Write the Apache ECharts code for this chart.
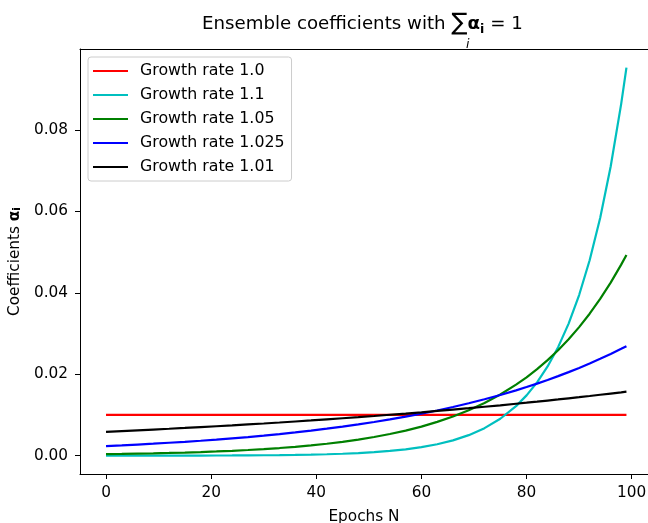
<!DOCTYPE html>
<html>
<head>
<meta charset="utf-8">
<script src="https://cdn.jsdelivr.net/npm/echarts@6/dist/echarts.min.js"></script>
<style>
  html, body { margin: 0; padding: 0; background: #fff; }
  #container { width: 648px; height: 523px; }
</style>
</head>
<body>
<div id="container"></div>
<script>
var epochs = [0, 3, 6, 9, 12, 15, 18, 21, 24, 27, 30, 33, 36, 39, 42, 45, 48, 51,
  54, 57, 60, 63, 66, 69, 72, 75, 78, 80, 82, 84, 86, 88, 90, 92, 94, 96, 98, 99];

var rate100 = [0.01, 0.01, 0.01, 0.01, 0.01, 0.01, 0.01, 0.01, 0.01, 0.01, 0.01, 0.01,
  0.01, 0.01, 0.01, 0.01, 0.01, 0.01, 0.01, 0.01, 0.01, 0.01, 0.01, 0.01, 0.01, 0.01,
  0.01, 0.01, 0.01, 0.01, 0.01, 0.01, 0.01, 0.01, 0.01, 0.01, 0.01, 0.01];
var rate110 = [0.0000058, 0.0000078, 0.0000105, 0.0000141, 0.0000189, 0.0000254,
  0.0000340, 0.0000457, 0.0000613, 0.0000822, 0.000110, 0.000148, 0.000199, 0.000266,
  0.000357, 0.000480, 0.000644, 0.000864, 0.00116, 0.00155, 0.00209, 0.00280, 0.00376,
  0.00504, 0.00676, 0.00907, 0.01217, 0.01481, 0.01802, 0.02192, 0.02666, 0.03244,
  0.03946, 0.04801, 0.05840, 0.07105, 0.08643, 0.09533];
var rate105 = [0.000367, 0.000426, 0.000494, 0.000573, 0.000665, 0.000771, 0.000895,
  0.00104, 0.00120, 0.00140, 0.00162, 0.00188, 0.00218, 0.00253, 0.00293, 0.00340,
  0.00395, 0.00458, 0.00532, 0.00617, 0.00715, 0.00830, 0.00963, 0.01117, 0.01296,
  0.01503, 0.01744, 0.01925, 0.02125, 0.02347, 0.02591, 0.02860, 0.03158, 0.03487,
  0.03850, 0.04250, 0.04693, 0.04931];
var rate1025 = [0.00236, 0.00254, 0.00274, 0.00294, 0.00317, 0.00341, 0.00367, 0.00395,
  0.00426, 0.00458, 0.00493, 0.00531, 0.00572, 0.00616, 0.00663, 0.00713, 0.00768,
  0.00827, 0.00890, 0.00958, 0.01031, 0.01110, 0.01195, 0.01287, 0.01385, 0.01491,
  0.01605, 0.01686, 0.01771, 0.01860, 0.01954, 0.02053, 0.02156, 0.02265, 0.02379,
  0.02499, 0.02625, 0.02690];
var rate101 = [0.00587, 0.00605, 0.00623, 0.00642, 0.00661, 0.00681, 0.00702, 0.00723,
  0.00745, 0.00768, 0.00791, 0.00815, 0.00840, 0.00865, 0.00892, 0.00919, 0.00946,
  0.00975, 0.01005, 0.01035, 0.01066, 0.01099, 0.01132, 0.01166, 0.01202, 0.01238,
  0.01276, 0.01301, 0.01327, 0.01354, 0.01381, 0.01409, 0.01437, 0.01466, 0.01496,
  0.01526, 0.01556, 0.01572];

var xTicks = [0, 20, 40, 60, 80, 100];
var yTicks = [0, 0.02, 0.04, 0.06, 0.08];

var font = "DejaVu Sans";
var fs = 15.3;

function pairs(vals) {
  return epochs.map(function (e, i) { return [e, vals[i]]; });
}

var dom = document.getElementById("container");
var myChart = echarts.init(dom, null, { renderer: "canvas" });

var option = {
  animation: false,
  title: {
    text: "{a|Ensemble coefficients with }{s|∑}{b|α}{c|i}{a| = 1}",
    left: 197,
    top: 7,
    textStyle: {
      fontWeight: "normal",
      rich: {
        a: { fontFamily: font, fontSize: 18.2, fontWeight: "normal", color: "#000" },
        s: { fontFamily: font, fontSize: 24, fontWeight: "normal", color: "#000" },
        b: { fontFamily: font, fontSize: 18.2, fontWeight: "bold", color: "#000" },
        c: { fontFamily: font, fontSize: 12.5, fontWeight: "bold", color: "#000",
             verticalAlign: "bottom", padding: [8, 0, 0, 0] },
      },
    },
  },
  graphic: [
    {
      type: "text",
      left: 466,
      top: 38,
      style: { text: "i", font: "italic 12.5px 'DejaVu Sans'", fill: "#000" },
    },
  ],
  legend: {
    orient: "vertical",
    left: 88,
    top: 57,
    padding: [6, 7, 6, 5],
    itemWidth: 35,
    itemHeight: 2,
    itemGap: 8,
    icon: "rect",
    backgroundColor: "rgba(255,255,255,0.8)",
    borderColor: "#cccccc",
    borderWidth: 1,
    borderRadius: 3,
    textStyle: { fontFamily: font, fontSize: 15.8, color: "#000", padding: [0, 0, 0, 7] },
    data: ["Growth rate 1.0", "Growth rate 1.1", "Growth rate 1.05",
      "Growth rate 1.025", "Growth rate 1.01"],
  },
  grid: {
    left: 80,
    right: 0,
    top: 49,
    bottom: 49,
    outerBoundsMode: "none",
    containLabel: false,
  },
  xAxis: [
    {
      type: "value",
      min: -4.95,
      max: 103.1,
      name: "Epochs N",
      nameLocation: "middle",
      nameGap: 36,
      nameTextStyle: { fontFamily: font, fontSize: fs, color: "#000" },
      axisLine: { show: true, onZero: false, lineStyle: { color: "#000", width: 1 } },
      axisTick: { show: true, length: 5, lineStyle: { color: "#000" }, customValues: xTicks },
      axisLabel: { fontFamily: font, fontSize: fs, color: "#000", margin: 12,
                   customValues: xTicks },
      splitLine: { show: false },
    },
    {
      type: "value",
      position: "top",
      min: -4.95,
      max: 103.1,
      axisLine: { show: true, onZero: false, lineStyle: { color: "#000", width: 1 } },
      axisTick: { show: false },
      axisLabel: { show: false },
      splitLine: { show: false },
    },
  ],
  yAxis: {
    type: "value",
    min: -0.0045,
    max: 0.0999,
    name: "{a|Coefficients }{b|α}{c|i}",
    nameLocation: "middle",
    nameGap: 50,
    nameTextStyle: {
      rich: {
        a: { fontFamily: font, fontSize: fs, color: "#000" },
        b: { fontFamily: font, fontSize: fs, fontWeight: "bold", color: "#000" },
        c: { fontFamily: font, fontSize: 10.5, fontWeight: "bold", color: "#000",
             verticalAlign: "bottom", padding: [6, 0, 0, 0] },
      },
    },
    axisLine: { show: true, onZero: false, lineStyle: { color: "#000", width: 1 } },
    axisTick: { show: true, length: 5, lineStyle: { color: "#000" }, customValues: yTicks },
    axisLabel: {
      fontFamily: font, fontSize: fs, color: "#000", margin: 12,
      customValues: yTicks,
      formatter: function (v) { return v.toFixed(2); },
    },
    splitLine: { show: false },
  },
  series: [
    { name: "Growth rate 1.0", data: pairs(rate100), color: "#ff0000" },
    { name: "Growth rate 1.1", data: pairs(rate110), color: "#00bfbf" },
    { name: "Growth rate 1.05", data: pairs(rate105), color: "#008000" },
    { name: "Growth rate 1.025", data: pairs(rate1025), color: "#0000ff" },
    { name: "Growth rate 1.01", data: pairs(rate101), color: "#000000" },
  ].map(function (s) {
    return Object.assign({
      type: "line",
      xAxisIndex: 0,
      showSymbol: false,
      symbol: "none",
      smooth: false,
      lineStyle: { width: 2.2 },
    }, s);
  }),
};

myChart.setOption(option);
window.addEventListener("resize", myChart.resize);
</script>
</body>
</html>
